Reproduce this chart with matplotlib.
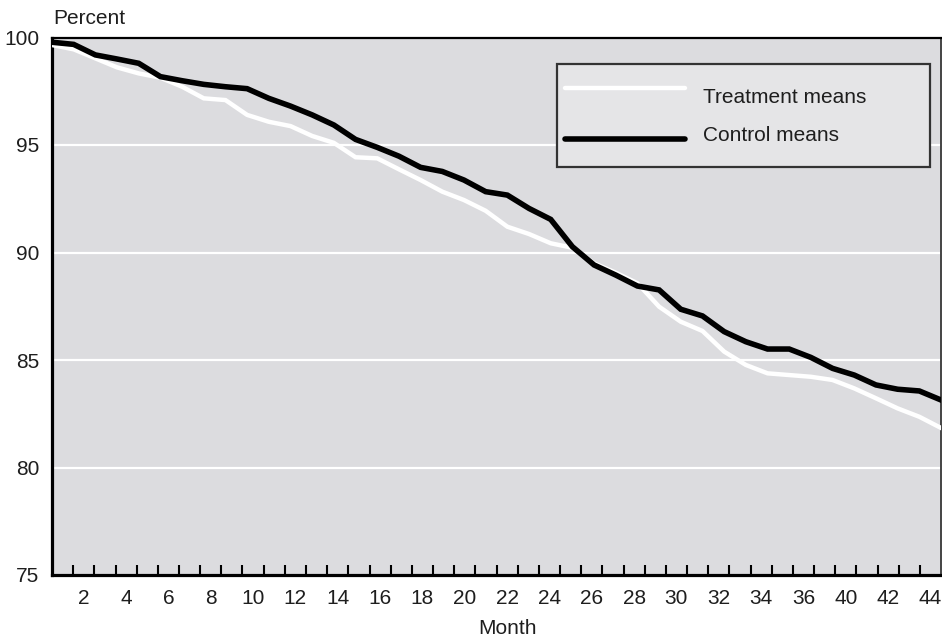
import numpy as np
import matplotlib
matplotlib.use("Agg")
import matplotlib.pyplot as plt
from matplotlib.patches import Rectangle
from matplotlib.lines import Line2D

plt.rcParams['font.family'] = ['Liberation Sans', 'DejaVu Sans']

# ---- data ----
control = [99.78, 99.68, 99.19, 99.00, 98.80, 98.18, 97.99, 97.82, 97.71, 97.62,
           97.17, 96.81, 96.40, 95.93, 95.26, 94.89, 94.48, 93.96, 93.77, 93.37,
           92.83, 92.67, 92.05, 91.54, 90.27, 89.42, 88.95, 88.44, 88.26, 87.36,
           87.05, 86.32, 85.85, 85.51, 85.51, 85.12, 84.61, 84.30, 83.84, 83.64,
           83.56, 83.14]
treatment = [99.65, 99.45, 99.03, 98.61, 98.33, 98.13, 97.71, 97.17, 97.09, 96.40,
             96.08, 95.88, 95.42, 95.10, 94.43, 94.38, 93.87, 93.37, 92.83, 92.44,
             91.94, 91.20, 90.86, 90.43, 90.22, 89.50, 89.06, 88.57, 87.48, 86.78,
             86.35, 85.39, 84.77, 84.38, 84.30, 84.22, 84.07, 83.68, 83.22, 82.75,
             82.36, 81.84]
month_labels = ["2", "4", "6", "8", "10", "12", "14", "16", "18", "20", "22",
                "24", "26", "28", "30", "32", "34", "36", "40", "42", "44"]
y_ticks = [75, 80, 85, 90, 95, 100]
series_names = ["Treatment means", "Control means"]

# ---- figure ----
W, H = 942, 639
fig = plt.figure(figsize=(W / 100, H / 100), dpi=100)
ax = fig.add_axes([52 / W, 64 / H, 889 / W, 537.5 / H])

bg = "#dcdcdf"
ax.set_facecolor(bg)
FS = 15
TXT = "#1e1e1e"

n = len(control)
x = np.arange(n)
ax.set_xlim(0, n - 1)
ax.set_ylim(75, 100)

# gridlines
for yv in y_ticks[1:-1]:
    ax.axhline(yv, color="white", lw=1.6, zorder=1)

ax.plot(x, treatment, color="white", lw=3.2, zorder=3, solid_joinstyle="miter")
ax.plot(x, control, color="black", lw=4.0, zorder=4, solid_joinstyle="miter")

# spines
for s in ["left", "bottom"]:
    ax.spines[s].set_linewidth(2.3)
    ax.spines[s].set_color("black")
ax.spines["top"].set_linewidth(1.6)
ax.spines["top"].set_color("black")
ax.spines["right"].set_linewidth(1.4)
ax.spines["right"].set_color("#444444")

# x ticks: minor = tick marks, major = labels between
scale = (n - 1) / n
ax.set_xticks(np.arange(1, n) * scale, minor=True)
ax.set_xticks((np.arange(len(month_labels)) * 2 + 1.5) * scale)
ax.set_xticklabels(month_labels)
ax.tick_params(axis="x", which="minor", direction="in", length=7, width=1.5,
               color="black", top=False)
ax.tick_params(axis="x", which="major", length=0, pad=10, labelsize=FS,
               labelcolor=TXT)

ax.set_yticks(y_ticks)
ax.set_yticklabels([str(v) for v in y_ticks])
ax.tick_params(axis="y", which="major", length=0, pad=9, labelsize=FS,
               labelcolor=TXT)

# labels
fig.text(53 / W, 1 - 19 / H, "Percent", ha="left", va="center", fontsize=FS,
         color=TXT)
fig.text(507 / W, 1 - 628 / H, "Month", ha="center", va="center", fontsize=FS,
         color=TXT)

# legend (manual)
box = Rectangle((0.568, 0.759), 0.42, 0.192, transform=ax.transAxes,
                facecolor="#e5e5e7", edgecolor="#333333", lw=1.6, zorder=6)
ax.add_patch(box)
ax.add_line(Line2D([0.577, 0.712], [0.906, 0.906], transform=ax.transAxes,
                   color="white", lw=3.2, zorder=7, solid_capstyle="round"))
ax.add_line(Line2D([0.577, 0.712], [0.811, 0.811], transform=ax.transAxes,
                   color="black", lw=4.0, zorder=7, solid_capstyle="round"))
ax.text(0.732, 0.889, series_names[0], transform=ax.transAxes, ha="left",
        va="center", fontsize=FS, color=TXT, zorder=8)
ax.text(0.732, 0.817, series_names[1], transform=ax.transAxes, ha="left",
        va="center", fontsize=FS, color=TXT, zorder=8)

fig.savefig("out.png", dpi=100)
